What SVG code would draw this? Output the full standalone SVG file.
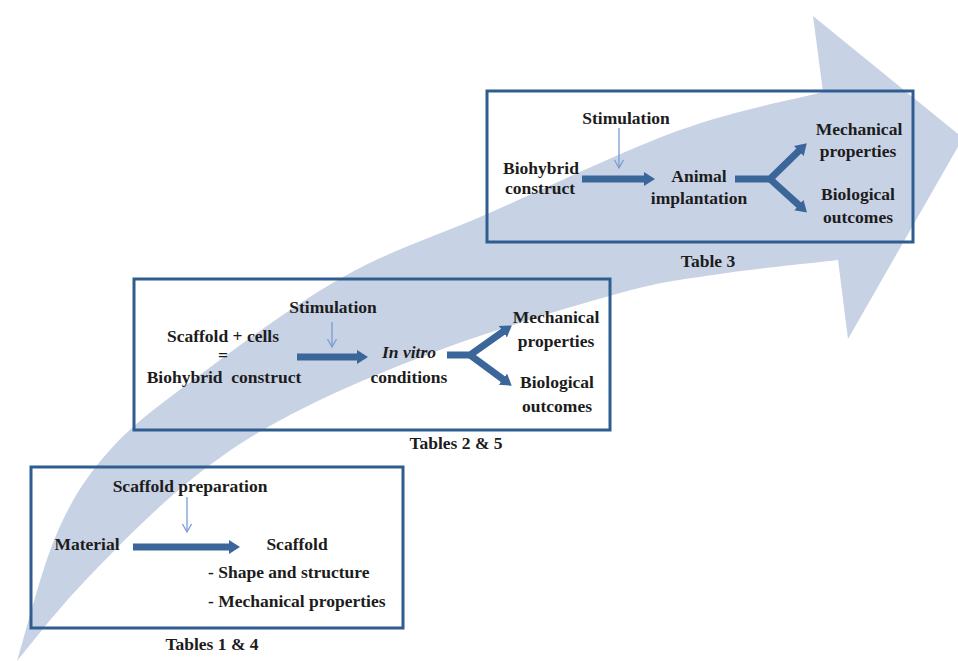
<svg xmlns="http://www.w3.org/2000/svg" width="958" height="661" viewBox="0 0 958 661">
<style>
  text { font-family: 'Liberation Serif', 'DejaVu Serif', serif; font-weight: bold; font-size: 17.5px; fill: #1c1c1c; text-anchor: middle; }
  .l { text-anchor: start; }
  .it { font-style: italic; }
  .box { fill: none; stroke: #2f5d8f; stroke-width: 3; }
  .thick { fill: none; stroke: #3b6699; stroke-width: 7; stroke-linejoin: miter; }
  .thin { fill: none; stroke: #7b9bd0; stroke-width: 1.3; }
</style>
<defs>
  <marker id="head" markerUnits="userSpaceOnUse" viewBox="0 0 11 14" markerWidth="11" markerHeight="14" refX="2" refY="7" orient="auto">
    <path d="M0,0 L11,7 L0,14 Z" fill="#3b6699"/>
  </marker>
  <marker id="vhead" markerUnits="userSpaceOnUse" viewBox="-10 -6 12 12" markerWidth="12" markerHeight="12" refX="0" refY="0" orient="auto" overflow="visible">
    <path d="M-8,-4.5 L0,0 L-8,4.5" fill="none" stroke="#7b9bd0" stroke-width="1.3"/>
  </marker>
</defs>
<rect width="958" height="661" fill="#ffffff"/>
<path id="progress-arrow" fill="#c8d2e5" d="M 17 661 C 23.7 639.7 41.5 568.2 57 533 C 72.5 497.8 86.7 476 110 450 C 133.3 424 158.2 405.8 197 377 C 235.8 348.2 294.7 304.2 343 277 C 391.3 249.8 430.8 238.5 487 214 C 543.2 189.5 624 150.3 680 130 C 736 109.7 799.2 98.3 823 92 L 813 16 L 963 138 L 848 339 L 838 260 C 818.3 262.3 756.3 268.5 720 274 C 683.7 279.5 666.7 280.3 620 293 C 573.3 305.7 495 329.7 440 350 C 385 370.3 332.2 392.8 290 415 C 247.8 437.2 221.5 455 187 483 C 152.5 511 111.3 553.3 83 583 C 54.7 612.7 28 648 17 661 Z"/>

<g id="stage3" font-family="Liberation Serif, serif">
  <rect class="box" x="487" y="91" width="426" height="151"/>
  <text x="626" y="124">Stimulation</text>
  <text x="541" y="174">Biohybrid</text>
  <text x="540" y="194">construct</text>
  <text x="699" y="182">Animal</text>
  <text x="699" y="204">implantation</text>
  <text x="859" y="135">Mechanical</text>
  <text x="858" y="157">properties</text>
  <text x="858" y="200">Biological</text>
  <text x="858" y="223">outcomes</text>
  <text x="708" y="267">Table 3</text>
</g>

<g id="stage2" font-family="Liberation Serif, serif">
  <rect class="box" x="134" y="279" width="476" height="151"/>
  <text x="333" y="313">Stimulation</text>
  <text x="223" y="342">Scaffold + cells</text>
  <text x="223" y="361">=</text>
  <text x="224" y="383" xml:space="preserve">Biohybrid  construct</text>
  <text class="it" x="409" y="358">In vitro</text>
  <text x="409" y="383">conditions</text>
  <text x="556" y="323">Mechanical</text>
  <text x="556" y="347">properties</text>
  <text x="557" y="388">Biological</text>
  <text x="557" y="412">outcomes</text>
  <text x="456" y="449">Tables 2 &amp; 5</text>
</g>

<g id="stage1" font-family="Liberation Serif, serif">
  <rect class="box" x="31" y="467" width="372" height="161"/>
  <text x="190" y="492">Scaffold preparation</text>
  <text x="87" y="550">Material</text>
  <text x="297" y="550">Scaffold</text>
  <text class="l" x="208" y="578">- Shape and structure</text>
  <text class="l" x="208" y="607">- Mechanical properties</text>
  <text x="212" y="650">Tables 1 &amp; 4</text>
</g>

<g id="connectors">
  <line class="thin" x1="619" y1="128" x2="619" y2="168" marker-end="url(#vhead)"/>
  <line class="thick" x1="582" y1="179" x2="646" y2="179" marker-end="url(#head)"/>
  <polyline class="thick" points="735,179 770,179 800.3,149.6" marker-end="url(#head)"/>
  <line class="thick" x1="770" y1="179" x2="800.3" y2="206.4" marker-end="url(#head)"/>

  <line class="thin" x1="332" y1="322" x2="332" y2="347" marker-end="url(#vhead)"/>
  <line class="thick" x1="297" y1="357" x2="359" y2="357" marker-end="url(#head)"/>
  <polyline class="thick" points="447,355 470,355 504.5,330.6" marker-end="url(#head)"/>
  <line class="thick" x1="470" y1="355" x2="504.5" y2="380.4" marker-end="url(#head)"/>

  <line class="thin" x1="187" y1="497" x2="187" y2="532" marker-end="url(#vhead)"/>
  <line class="thick" x1="133" y1="547" x2="231" y2="547" marker-end="url(#head)"/>
</g>
</svg>
